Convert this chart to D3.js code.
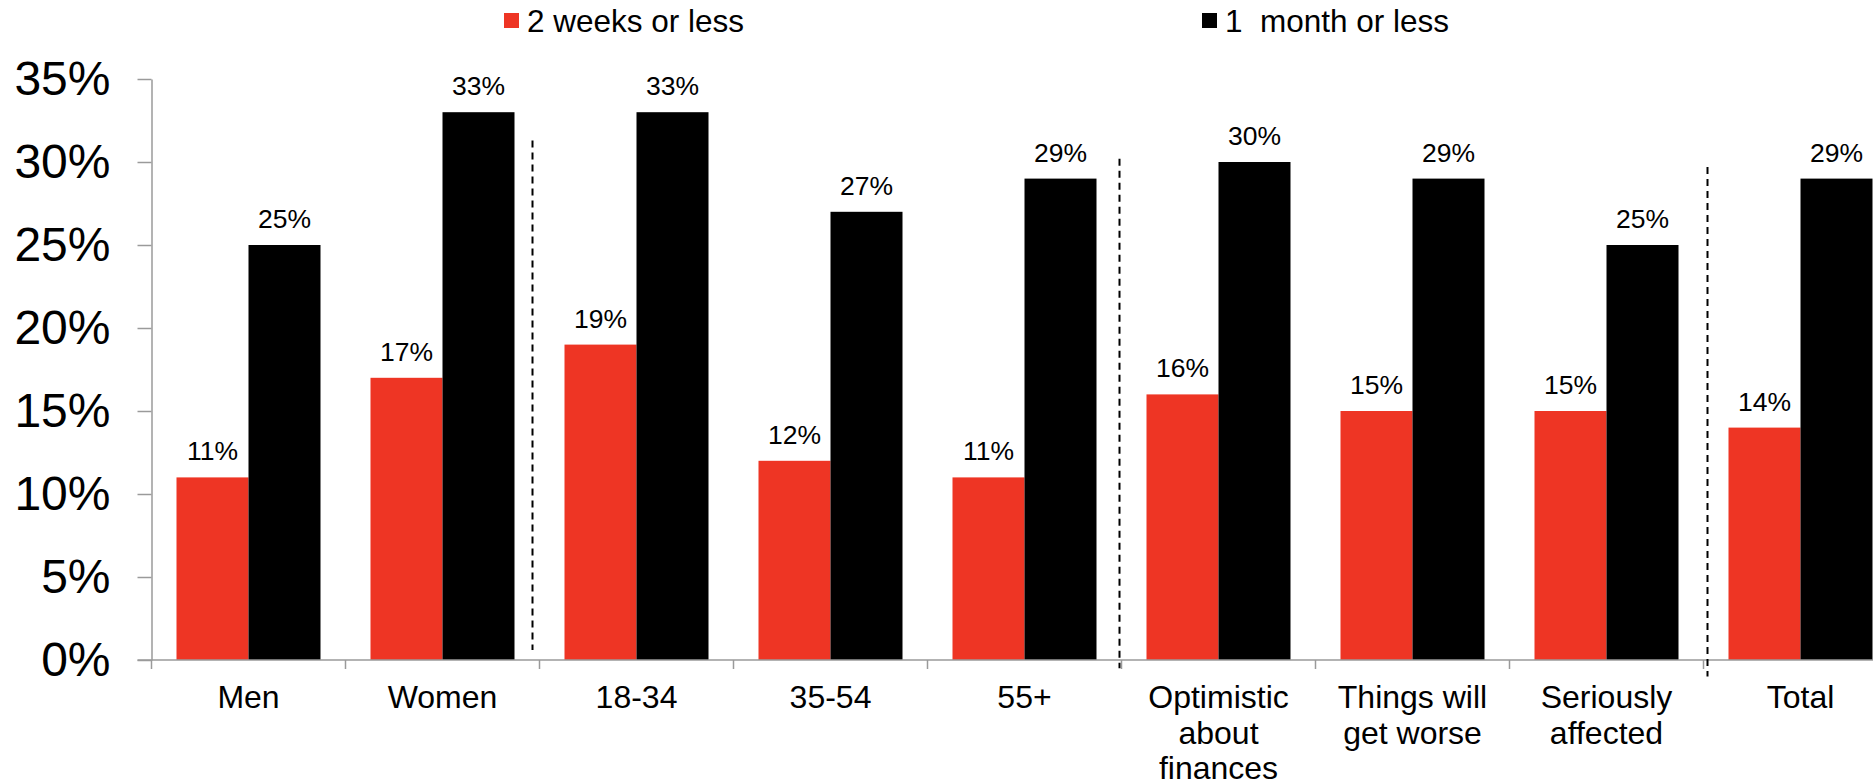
<!DOCTYPE html>
<html>
<head>
<meta charset="utf-8">
<script src="https://cdn.jsdelivr.net/npm/d3@7"></script>
<style>
  html, body { margin: 0; padding: 0; background: #fff; }
  svg { display: block; font-family: "Liberation Sans", Arial, Helvetica, sans-serif; }
</style>
</head>
<body>
<svg id="chart" width="1873" height="783"></svg>
<script>
// Share of respondents whose savings would last a given time, by group
const categories = [
  ["Men"],
  ["Women"],
  ["18-34"],
  ["35-54"],
  ["55+"],
  ["Optimistic", "about", "finances"],
  ["Things will", "get worse"],
  ["Seriously", "affected"],
  ["Total"]
];
const twoWeeks = [11, 17, 19, 12, 11, 16, 15, 15, 14];
const oneMonth = [25, 33, 33, 27, 29, 30, 29, 25, 29];
const seriesNames = ["2 weeks or less", "1  month or less"];
const yTicks = [0, 5, 10, 15, 20, 25, 30, 35];
// group boundaries drawn as dashed dividers (after these category indices)
const dividersAfter = [1, 4, 7];

const colors = ["#EE3524", "#000000"];

const svg = d3.select("#chart");
const plotLeft = 151.5, plotBottom = 660, plotTop = 79;
const band = 194;

const keys = categories.map(c => c.join(" "));
const x0 = d3.scaleBand().domain(keys).range([plotLeft, plotLeft + band * keys.length]).padding(0);
const x1 = d3.scaleBand().domain([0, 1]).range([25, 169]).padding(0);
const y = d3.scaleLinear().domain([0, 35]).range([plotBottom, plotTop]);

const axisColor = "#9a9a9a";

// bars
const rows = keys.map((k, i) => ({ key: k, values: [twoWeeks[i], oneMonth[i]] }));
const groups = svg.append("g").selectAll("g").data(rows).join("g")
  .attr("transform", d => `translate(${x0(d.key)},0)`);

groups.selectAll("rect").data(d => d.values.map((v, s) => ({ v, s }))).join("rect")
  .attr("x", d => x1(d.s))
  .attr("width", x1.bandwidth())
  .attr("y", d => y(d.v))
  .attr("height", d => y(0) - y(d.v))
  .attr("fill", d => colors[d.s]);

groups.selectAll("text.val").data(d => d.values.map((v, s) => ({ v, s }))).join("text")
  .attr("class", "val")
  .attr("x", d => x1(d.s) + x1.bandwidth() / 2)
  .attr("y", d => y(d.v) - 17)
  .attr("text-anchor", "middle")
  .attr("font-size", 26.5)
  .attr("fill", "#000")
  .text(d => d.v + "%");

// y axis
const yAxis = svg.append("g").attr("transform", `translate(${plotLeft},0)`)
  .call(d3.axisLeft(y).tickValues(yTicks).tickSize(14).tickSizeOuter(0).tickPadding(27)
    .tickFormat(d => d + "%"));
yAxis.select(".domain").attr("stroke", axisColor).attr("stroke-width", 1.5);
yAxis.selectAll(".tick line").attr("stroke", axisColor).attr("stroke-width", 1.5);
yAxis.selectAll(".tick text").attr("font-size", 48).attr("fill", "#000")
  .attr("font-family", "'Liberation Sans', Arial, sans-serif");

// x axis baseline with boundary ticks
const bounds = d3.range(keys.length + 1).map(i => plotLeft + band * i);
svg.append("line")
  .attr("x1", plotLeft - 14).attr("x2", 1873)
  .attr("y1", plotBottom).attr("y2", plotBottom)
  .attr("stroke", axisColor).attr("stroke-width", 1.5);
svg.append("g").selectAll("line").data(bounds).join("line")
  .attr("x1", d => d).attr("x2", d => d)
  .attr("y1", plotBottom).attr("y2", plotBottom + 9)
  .attr("stroke", axisColor).attr("stroke-width", 1.5);

// category labels
const labels = svg.append("g").selectAll("text").data(categories).join("text")
  .attr("text-anchor", "middle")
  .attr("font-size", 32)
  .attr("fill", "#000")
  .attr("transform", (d, i) => `translate(${x0(keys[i]) + band / 2},${plotBottom + 48})`);
labels.selectAll("tspan").data(d => d).join("tspan")
  .attr("x", 0)
  .attr("y", (d, j) => j * 35.5)
  .text(d => d);

// dashed group dividers
const dividerSpan = [[31.3, 0.6], [30.2, -0.5], [29.7, -1.0]];
const dividerShift = [-7, -2, 4];
svg.append("g").selectAll("line").data(dividersAfter).join("line")
  .attr("x1", (d, i) => x0(keys[d]) + band + dividerShift[i])
  .attr("x2", (d, i) => x0(keys[d]) + band + dividerShift[i])
  .attr("y1", (d, i) => y(dividerSpan[i][0]))
  .attr("y2", (d, i) => y(dividerSpan[i][1]))
  .attr("stroke", "#000")
  .attr("stroke-width", 2)
  .attr("stroke-dasharray", "7,5");

// legend
const legendX = [504, 1202];
const legend = svg.append("g").selectAll("g").data(seriesNames).join("g")
  .attr("transform", (d, i) => `translate(${legendX[i]},0)`);
legend.append("rect")
  .attr("x", 0).attr("y", 13).attr("width", 15).attr("height", 15)
  .attr("fill", (d, i) => colors[i]);
legend.append("text")
  .attr("x", 23).attr("y", 32)
  .attr("font-size", 31.5)
  .attr("fill", "#000")
  .style("white-space", "pre")
  .text(d => d);
</script>
</body>
</html>
